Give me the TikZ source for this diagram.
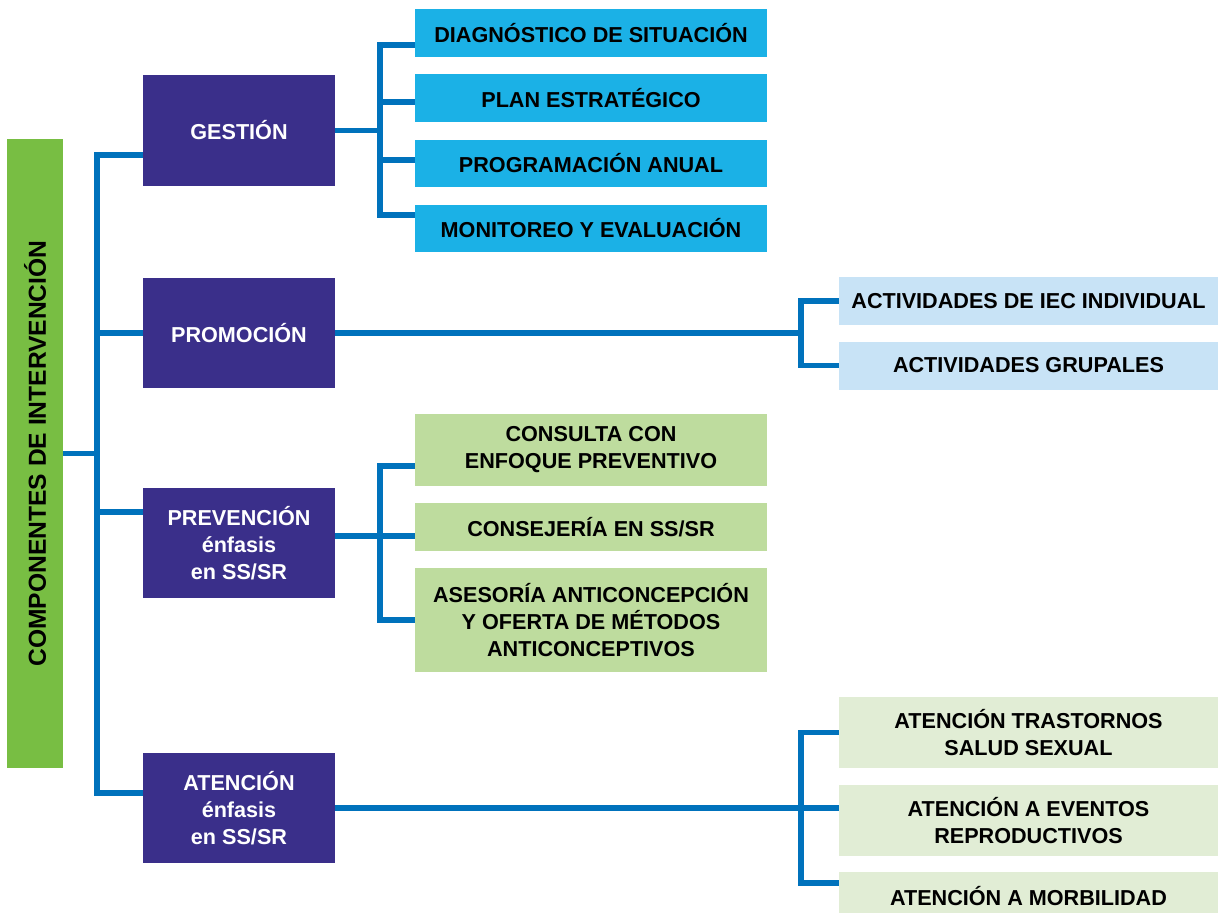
\documentclass[tikz,border=0pt]{standalone}
\usepackage{fontspec}
\setmainfont{Liberation Sans}
\usepackage{tikz}

\definecolor{morado}{HTML}{3A2F8A}
\definecolor{azul}{HTML}{0072BC}
\definecolor{celeste}{HTML}{1BB1E6}
\definecolor{celestepal}{HTML}{C8E3F6}
\definecolor{verde}{HTML}{78BE43}
\definecolor{verdeclaro}{HTML}{BEDC9E}
\definecolor{verdepal}{HTML}{E1EDD5}

\begin{document}
\begin{tikzpicture}[x=0.02cm, y=-0.02cm,
		link/.style={color=azul, line width=3.4pt},
		txt/.style={align=center, inner sep=0pt, font=\bfseries\fontsize{12.3}{15.4}\selectfont},
		mainbox/.style={txt, fill=morado, text=white, minimum width=3.84cm, minimum height=2.22cm},
		midbox/.style={txt, minimum width=7.04cm, minimum height=0.96cm},
		farbox/.style={txt, minimum width=7.58cm, minimum height=0.96cm}]
		\useasboundingbox (0,0) rectangle (1218,913);

		\node (comp) [txt, fill=verde, rotate=90, minimum width=12.58cm, minimum height=1.12cm, font=\bfseries\fontsize{14}{16}\selectfont] at (35,453.5) {COMPONENTES DE INTERVENCIÓN};

		\node (gestion) [mainbox] at (239,130.5) {GESTIÓN};
		\node (promocion) [mainbox] at (239,333) {PROMOCIÓN};
		\node (prevencion) [mainbox] at (239,543) {PREVENCIÓN\\énfasis\\en SS/SR};
		\node (atencion) [mainbox] at (239,808) {ATENCIÓN\\énfasis\\en SS/SR};

		\node (d1) [midbox, fill=celeste] at (591,33) {DIAGNÓSTICO DE SITUACIÓN};
		\node (d2) [midbox, fill=celeste] at (591,98) {PLAN ESTRATÉGICO};
		\node (d3) [midbox, fill=celeste] at (591,163.5) {PROGRAMACIÓN ANUAL};
		\node (d4) [midbox, fill=celeste] at (591,228.5) {MONITOREO Y EVALUACIÓN};

		\node (a1) [farbox, fill=celestepal] at (1028.5,301) {ACTIVIDADES DE IEC INDIVIDUAL};
		\node (a2) [farbox, fill=celestepal] at (1028.5,365.5) {ACTIVIDADES GRUPALES};

		\node (c1) [midbox, fill=verdeclaro, minimum height=1.44cm] at (591,450) {CONSULTA CON\\ENFOQUE PREVENTIVO};
		\node (c2) [midbox, fill=verdeclaro] at (591,527) {CONSEJERÍA EN SS/SR};
		\node (c3) [midbox, fill=verdeclaro, minimum height=2.08cm] at (591,620) {ASESORÍA ANTICONCEPCIÓN\\Y OFERTA DE MÉTODOS\\ANTICONCEPTIVOS};

		\node (e1) [farbox, fill=verdepal, minimum height=1.42cm] at (1028.5,732.5) {ATENCIÓN TRASTORNOS\\SALUD SEXUAL};
		\node (e2) [farbox, fill=verdepal, minimum height=1.42cm] at (1028.5,820.5) {ATENCIÓN A EVENTOS\\REPRODUCTIVOS};
		\node (e3) [farbox, fill=verdepal] at (1028.5,896) {ATENCIÓN A MORBILIDAD};

		% trunk
		\coordinate (trunk) at (97,0);
		\coordinate (gin) at ([yshift=-0.49cm]gestion.west);
		\coordinate (pin) at ([yshift=0.62cm]prevencion.west);
		\coordinate (ain) at ([yshift=0.3cm]atencion.west);
		\draw[link] (comp) -- (comp -| trunk);
		\draw[link] (gin) -| (trunk |- ain) -- (ain);
		\draw[link] (trunk |- promocion.west) -- (promocion.west);
		\draw[link] (trunk |- pin) -- (pin);

		% gestion
		\coordinate (gbus) at (380,0);
		\coordinate (d1in) at ([yshift=-0.24cm]d1.west);
		\coordinate (d2in) at ([yshift=-0.08cm]d2.west);
		\coordinate (d3in) at ([yshift=0.07cm]d3.west);
		\coordinate (d4in) at ([yshift=0.27cm]d4.west);
		\draw[link] (gestion) -- (gestion -| gbus);
		\draw[link] (d1in) -| (gbus |- d4in) -- (d4in);
		\draw[link] (gbus |- d2in) -- (d2in);
		\draw[link] (gbus |- d3in) -- (d3in);

		% promocion
		\coordinate (pbus) at (801,0);
		\draw[link] (promocion) -- (promocion -| pbus);
		\draw[link] (a1.west) -| (pbus |- a2.west) -- (a2.west);

		% prevencion
		\coordinate (cout) at ([yshift=0.14cm]prevencion.east);
		\coordinate (c1in) at ([yshift=-0.32cm]c1.west);
		\coordinate (c2in) at ([yshift=-0.18cm]c2.west);
		\draw[link] (cout) -- (cout -| gbus);
		\draw[link] (c1in) -| (gbus |- c3.west) -- (c3.west);
		\draw[link] (gbus |- c2in) -- (c2in);

		% atencion
		\coordinate (e2in) at ([yshift=0.25cm]e2.west);
		\coordinate (e3in) at ([yshift=0.26cm]e3.west);
		\draw[link] (atencion) -- (atencion -| pbus);
		\draw[link] (e1.west) -| (pbus |- e3in) -- (e3in);
		\draw[link] (pbus |- e2in) -- (e2in);

	\end{tikzpicture}
\end{document}
